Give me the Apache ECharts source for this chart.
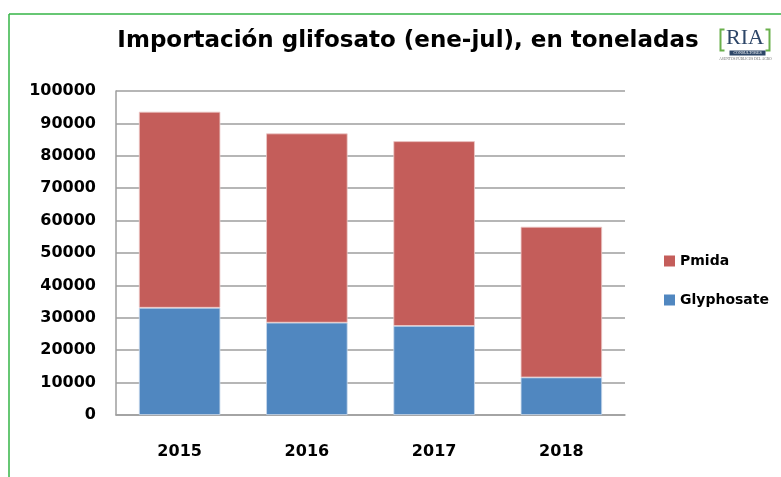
<!DOCTYPE html>
<html>
<head>
<meta charset="utf-8">
<script src="https://cdn.jsdelivr.net/npm/echarts@6/dist/echarts.min.js"></script>
<style>
  html, body { margin: 0; padding: 0; background: #fff; }
  #chart { width: 781px; height: 477px; }
</style>
</head>
<body>
<div id="chart"></div>
<script>
// datos (toneladas)
const years = ["2015", "2016", "2017", "2018"];
const glyphosate = [33100, 28500, 27500, 11600];
const pmida = [60500, 58400, 57000, 46500];
const yTicks = [0, 10000, 20000, 30000, 40000, 50000, 60000, 70000, 80000, 90000, 100000];

const FONT = "DejaVu Sans";

const chart = echarts.init(document.getElementById("chart"));

const options = {
  backgroundColor: "#fff",
  animation: false,
  title: {
    text: "Importación glifosato (ene-jul), en toneladas",
    left: 403,
    top: 25,
    textAlign: "center",
    textStyle: {
      fontFamily: FONT,
      fontWeight: "bold",
      fontSize: 23,
      color: "#000",
    },
  },
  grid: {
    left: 116,
    right: 156,
    top: 91,
    bottom: 62,
  },
  legend: {
    orient: "vertical",
    left: 659,
    top: 249,
    itemWidth: 11,
    itemHeight: 11,
    itemGap: 25,
    icon: "rect",
    data: ["Pmida", "Glyphosate"],
    itemStyle: { borderWidth: 0 },
    textStyle: {
      fontFamily: FONT,
      fontWeight: "bold",
      fontSize: 14,
      color: "#000",
    },
  },
  xAxis: {
    type: "category",
    data: years,
    axisLine: { lineStyle: { color: "#9e9e9e", width: 1.5 } },
    axisTick: { show: false },
    axisLabel: {
      margin: 29,
      fontFamily: FONT,
      fontWeight: "bold",
      fontSize: 16,
      color: "#000",
    },
  },
  yAxis: {
    type: "value",
    min: yTicks[0],
    max: yTicks[yTicks.length - 1],
    interval: 10000,
    axisLine: { show: true, lineStyle: { color: "#9e9e9e", width: 1.5 } },
    axisTick: { show: false },
    splitLine: { lineStyle: { color: "#9e9e9e", width: 1.5 } },
    axisLabel: {
      margin: 20,
      fontFamily: FONT,
      fontWeight: "bold",
      fontSize: 16,
      color: "#000",
      formatter: (v) => String(v),
    },
  },
  series: [
    {
      name: "Glyphosate",
      type: "bar",
      stack: "total",
      barWidth: "64%",
      data: glyphosate,
      itemStyle: { color: "#5087c0", borderColor: "#c9d9ec", borderWidth: 0.8 },
    },
    {
      name: "Pmida",
      type: "bar",
      stack: "total",
      data: pmida,
      itemStyle: { color: "#c45d5a", borderColor: "#ecc9c8", borderWidth: 0.8 },
    },
  ],
  graphic: [
    // marco verde
    { type: "line", shape: { x1: 9, y1: 14, x2: 781, y2: 14 }, style: { stroke: "#34b546", lineWidth: 1.5 } },
    { type: "line", shape: { x1: 9, y1: 14, x2: 9, y2: 477 }, style: { stroke: "#34b546", lineWidth: 1.5 } },
    // logo RIA
    {
      type: "group",
      left: 718,
      top: 27,
      children: [
        { type: "polyline", shape: { points: [[6, 3], [2, 3], [2, 24], [6, 24]] }, style: { stroke: "#6ab04c", lineWidth: 2, fill: null } },
        { type: "polyline", shape: { points: [[47, 3], [51, 3], [51, 24], [47, 24]] }, style: { stroke: "#6ab04c", lineWidth: 2, fill: null } },
        { type: "text", x: 26.5, y: 1, style: { text: "RIA", fontFamily: "Liberation Serif", fontSize: 22, fill: "#2d4668", align: "center" } },
        { type: "rect", shape: { x: 11, y: 24, width: 36, height: 5 }, style: { fill: "#2d4668" } },
        { type: "text", x: 29, y: 24.5, style: { text: "CONSULTORES", fontFamily: "Liberation Serif", fontSize: 4, fill: "#fff", align: "center" } },
        { type: "text", x: 27, y: 31, style: { text: "ASUNTOS PÚBLICOS DEL AGRO", fontFamily: "Liberation Serif", fontSize: 3.5, fill: "#6a6a6a", align: "center" } },
      ],
    },
  ],
};

chart.setOption(options);

window.addEventListener("resize", () => {
  chart.resize();
});
</script>
</body>
</html>
